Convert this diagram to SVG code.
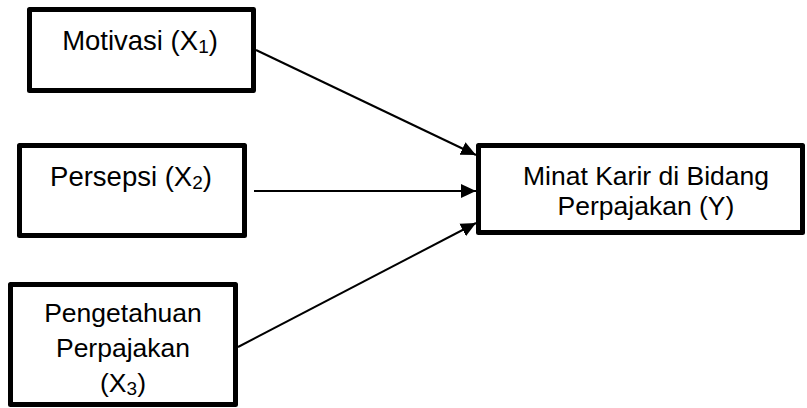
<svg xmlns="http://www.w3.org/2000/svg" width="807" height="408" viewBox="0 0 807 408">
<style>
.box{fill:#fff;stroke:#000;stroke-width:5;stroke-linejoin:round}
.t{font-family:"Liberation Sans",Arial,sans-serif;font-size:26.5px;fill:#000;text-anchor:middle}
.big{font-size:27.5px}
.sub{font-size:19px}
.c{stroke:#000;stroke-width:2;fill:none;marker-end:url(#ah)}
</style>
<defs>
<marker id="ah" markerUnits="userSpaceOnUse" markerWidth="16" markerHeight="16" viewBox="0 0 16 16" refX="15" refY="8" orient="auto">
<path d="M0,1 L15,8 L0,15 Z" fill="#000"/>
</marker>
</defs>
<g id="connectors">
<line class="c" x1="256" y1="50" x2="476" y2="155"/>
<line class="c" x1="254" y1="191" x2="476" y2="191"/>
<line class="c" x1="238" y1="347" x2="476" y2="223"/>
</g>
<g id="x1">
<rect class="box" x="29.5" y="9.5" width="224" height="81"/>
<text class="t big" x="140" y="50">Motivasi (X<tspan class="sub" dy="3">1</tspan><tspan dy="-3">)</tspan></text>
</g>
<g id="x2">
<rect class="box" x="19.5" y="145.5" width="225" height="90"/>
<text class="t big" x="131" y="186">Persepsi (X<tspan class="sub" dy="3">2</tspan><tspan dy="-3">)</tspan></text>
</g>
<g id="x3">
<rect class="box" x="10.5" y="284.5" width="225" height="120"/>
<text class="t" x="123" y="322">Pengetahuan</text>
<text class="t" x="123" y="357">Perpajakan</text>
<text class="t" x="123" y="392">(X<tspan class="sub" dy="3">3</tspan><tspan dy="-3">)</tspan></text>
</g>
<g id="y">
<rect class="box" x="478.5" y="145.5" width="324" height="87"/>
<text class="t" x="646" y="185">Minat Karir di Bidang</text>
<text class="t" x="646" y="215">Perpajakan (Y)</text>
</g>
</svg>
